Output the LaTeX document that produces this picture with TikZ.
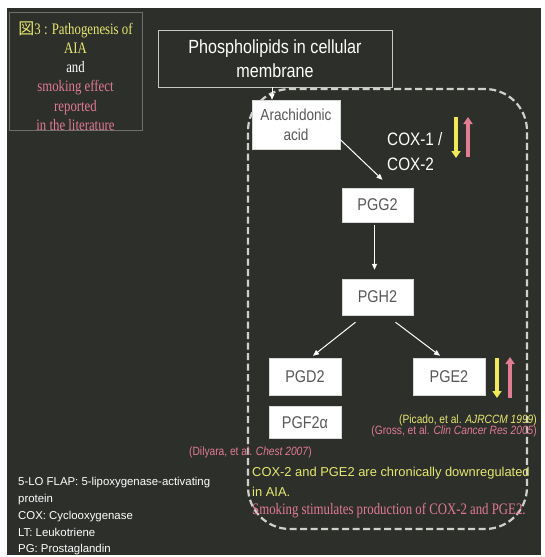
\documentclass[tikz,border=0pt]{standalone}
\usepackage{fontspec}
\setmainfont{Liberation Sans}
\newfontfamily\condsans[FakeStretch=0.85]{Liberation Sans}
\newfontfamily\condserif[FakeStretch=0.8]{Liberation Serif}
\newfontfamily\cjk{Noto Sans CJK JP}
\usetikzlibrary{positioning,arrows.meta}

\definecolor{bgcol}{RGB}{45,47,43}
\definecolor{ytxt}{RGB}{232,232,112}
\definecolor{ptxt}{RGB}{225,122,150}
\definecolor{yarr}{RGB}{240,234,90}
\definecolor{parr}{RGB}{226,126,146}
\definecolor{boxtxt}{RGB}{88,88,88}
\definecolor{framecol}{RGB}{208,208,203}

\begin{document}
\begin{tikzpicture}[x=1pt,y=-1pt]
  % Settings
  \tikzset{
    prod/.style={draw=white!85!black, fill=white, text=boxtxt, align=center, inner sep=1pt, font=\condsans\fontsize{17}{20}\selectfont},
    membr/.style={draw=white!78!black, line width=.8pt, text=white, align=center, font=\condsans\fontsize{19}{24}\selectfont},
    titlebox/.style={draw=gray!80!bgcol, line width=.8pt},
    titletext/.style={align=center, text=ptxt, font=\condserif\fontsize{16}{19.2}\selectfont},
    dashbox/.style={draw=framecol, line width=2.2pt, dash pattern=on 7pt off 3.5pt, rounded corners=42pt},
    arr/.style={draw=white, line width=1pt, -{Triangle[length=6pt,width=5pt]}},
    ind/.style={line width=3.5pt, -{Triangle[length=7pt,width=9pt]}},
    cite/.style={inner sep=0pt, font=\condsans\fontsize{12}{13}\selectfont},
    note/.style={align=left, inner sep=0pt},
  }

  \path[use as bounding box, fill=white] (0,0) rectangle (544,557);
  \fill[bgcol] (7,8) rectangle (541,555);

  % Title
  \node[titlebox, minimum width=133pt, minimum height=118pt, name=tbox] at (75.5,71) {};
  \node[titletext, name=title] at (75.5,76) {\textcolor{ytxt}{{\cjk 図}3 : Pathogenesis of}\\
    \textcolor{ytxt}{AIA}\\ \textcolor{white}{and}\\ smoking effect\\ reported\\ in the literature};

  % Frame
  \node[dashbox, minimum width=279pt, minimum height=440pt, name=frame] at (387.5,309) {};

  % Pathway
  \node[membr, minimum width=234pt, minimum height=57pt, name=phos] at (275,58.5) {Phospholipids in cellular\\membrane};
  \node[prod, minimum width=88pt, minimum height=49pt, font=\condsans\fontsize{16}{20}\selectfont, name=arach] at (296,124.5) {Arachidonic\\acid};
  \node[prod, minimum width=71pt, minimum height=34pt, name=pgg2] at (377.5,205) {PGG2};
  \node[prod, minimum width=71pt, minimum height=36pt, name=pgh2] at (377.5,297) {PGH2};
  \node[prod, minimum width=72pt, minimum height=37pt, name=pgd2] at (305,376.5) {PGD2};
  \node[prod, minimum width=72pt, minimum height=32pt, below=11pt of pgd2, name=pgf2] {PGF2α};
  \node[prod, minimum width=72pt, minimum height=37pt, name=pge2] at (449,376.5) {PGE2};

  \node[note, anchor=west, text=white, font=\condsans\fontsize{18}{25}\selectfont, name=cox] at (387,152) {COX-1 /\\COX-2};

  % Arrows
  \coordinate (aa) at ([xshift=-24pt]arach.north);
  \draw[arr] (aa |- phos.south) -- (aa);
  \draw[arr] ([yshift=-15pt]arach.east) -- ([xshift=5pt,yshift=8pt]pgg2.north);
  \draw[arr] ([xshift=-3pt,yshift=-3pt]pgg2.south) -- ([xshift=-3pt,yshift=9pt]pgh2.north);
  \draw[arr] ([xshift=-22pt,yshift=-7pt]pgh2.south) -- ([xshift=8pt,yshift=2pt]pgd2.north);
  \draw[arr] ([xshift=18pt,yshift=-7pt]pgh2.south) -- ([xshift=-9pt,yshift=2pt]pge2.north);

  % Up / down
  \coordinate (cy1) at (456,117); \coordinate (cy2) at (456,158);
  \coordinate (cp1) at (468,157); \coordinate (cp2) at (468,117);
  \draw[ind, yarr] (cy1) -- (cy2);
  \draw[ind, parr] (cp1) -- (cp2);
  \coordinate (ey1) at (497,358); \coordinate (ey2) at (497,398);
  \coordinate (ep1) at (510,398); \coordinate (ep2) at (510,357);
  \draw[ind, yarr] (ey1) -- (ey2);
  \draw[ind, parr] (ep1) -- (ep2);

  % References
  \node[cite, anchor=east, text=ytxt, name=picado] at (537,420) {(Picado, et al. \textit{AJRCCM 1999})};
  \node[cite, anchor=east, text=ptxt, name=gross] at (537,431) {(Gross, et al. \textit{Clin Cancer Res 2005})};
  \node[cite, anchor=east, text=ptxt, name=dilyara] at (312,452) {(Dilyara, et al. \textit{Chest 2007})};

  % Findings
  \node[note, anchor=west, text=ytxt, font=\fontsize{12.9}{20}\selectfont, name=downreg] at (252,482) {COX-2 and PGE2 are chronically downregulated\\in AIA.};
  \node[note, anchor=west, text=ptxt, font=\condserif\fontsize{16}{19}\selectfont, name=smoking] at (252,511) {Smoking stimulates production of COX-2 and PGE2.};

  % Abbreviations
  \node[note, anchor=west, text=white, font=\fontsize{11.4}{16.75}\selectfont, name=abbr] at (18,516.5) {5-LO FLAP: 5-lipoxygenase-activating\\protein\\COX: Cyclooxygenase\\LT: Leukotriene\\PG: Prostaglandin};

\end{tikzpicture}
\end{document}
